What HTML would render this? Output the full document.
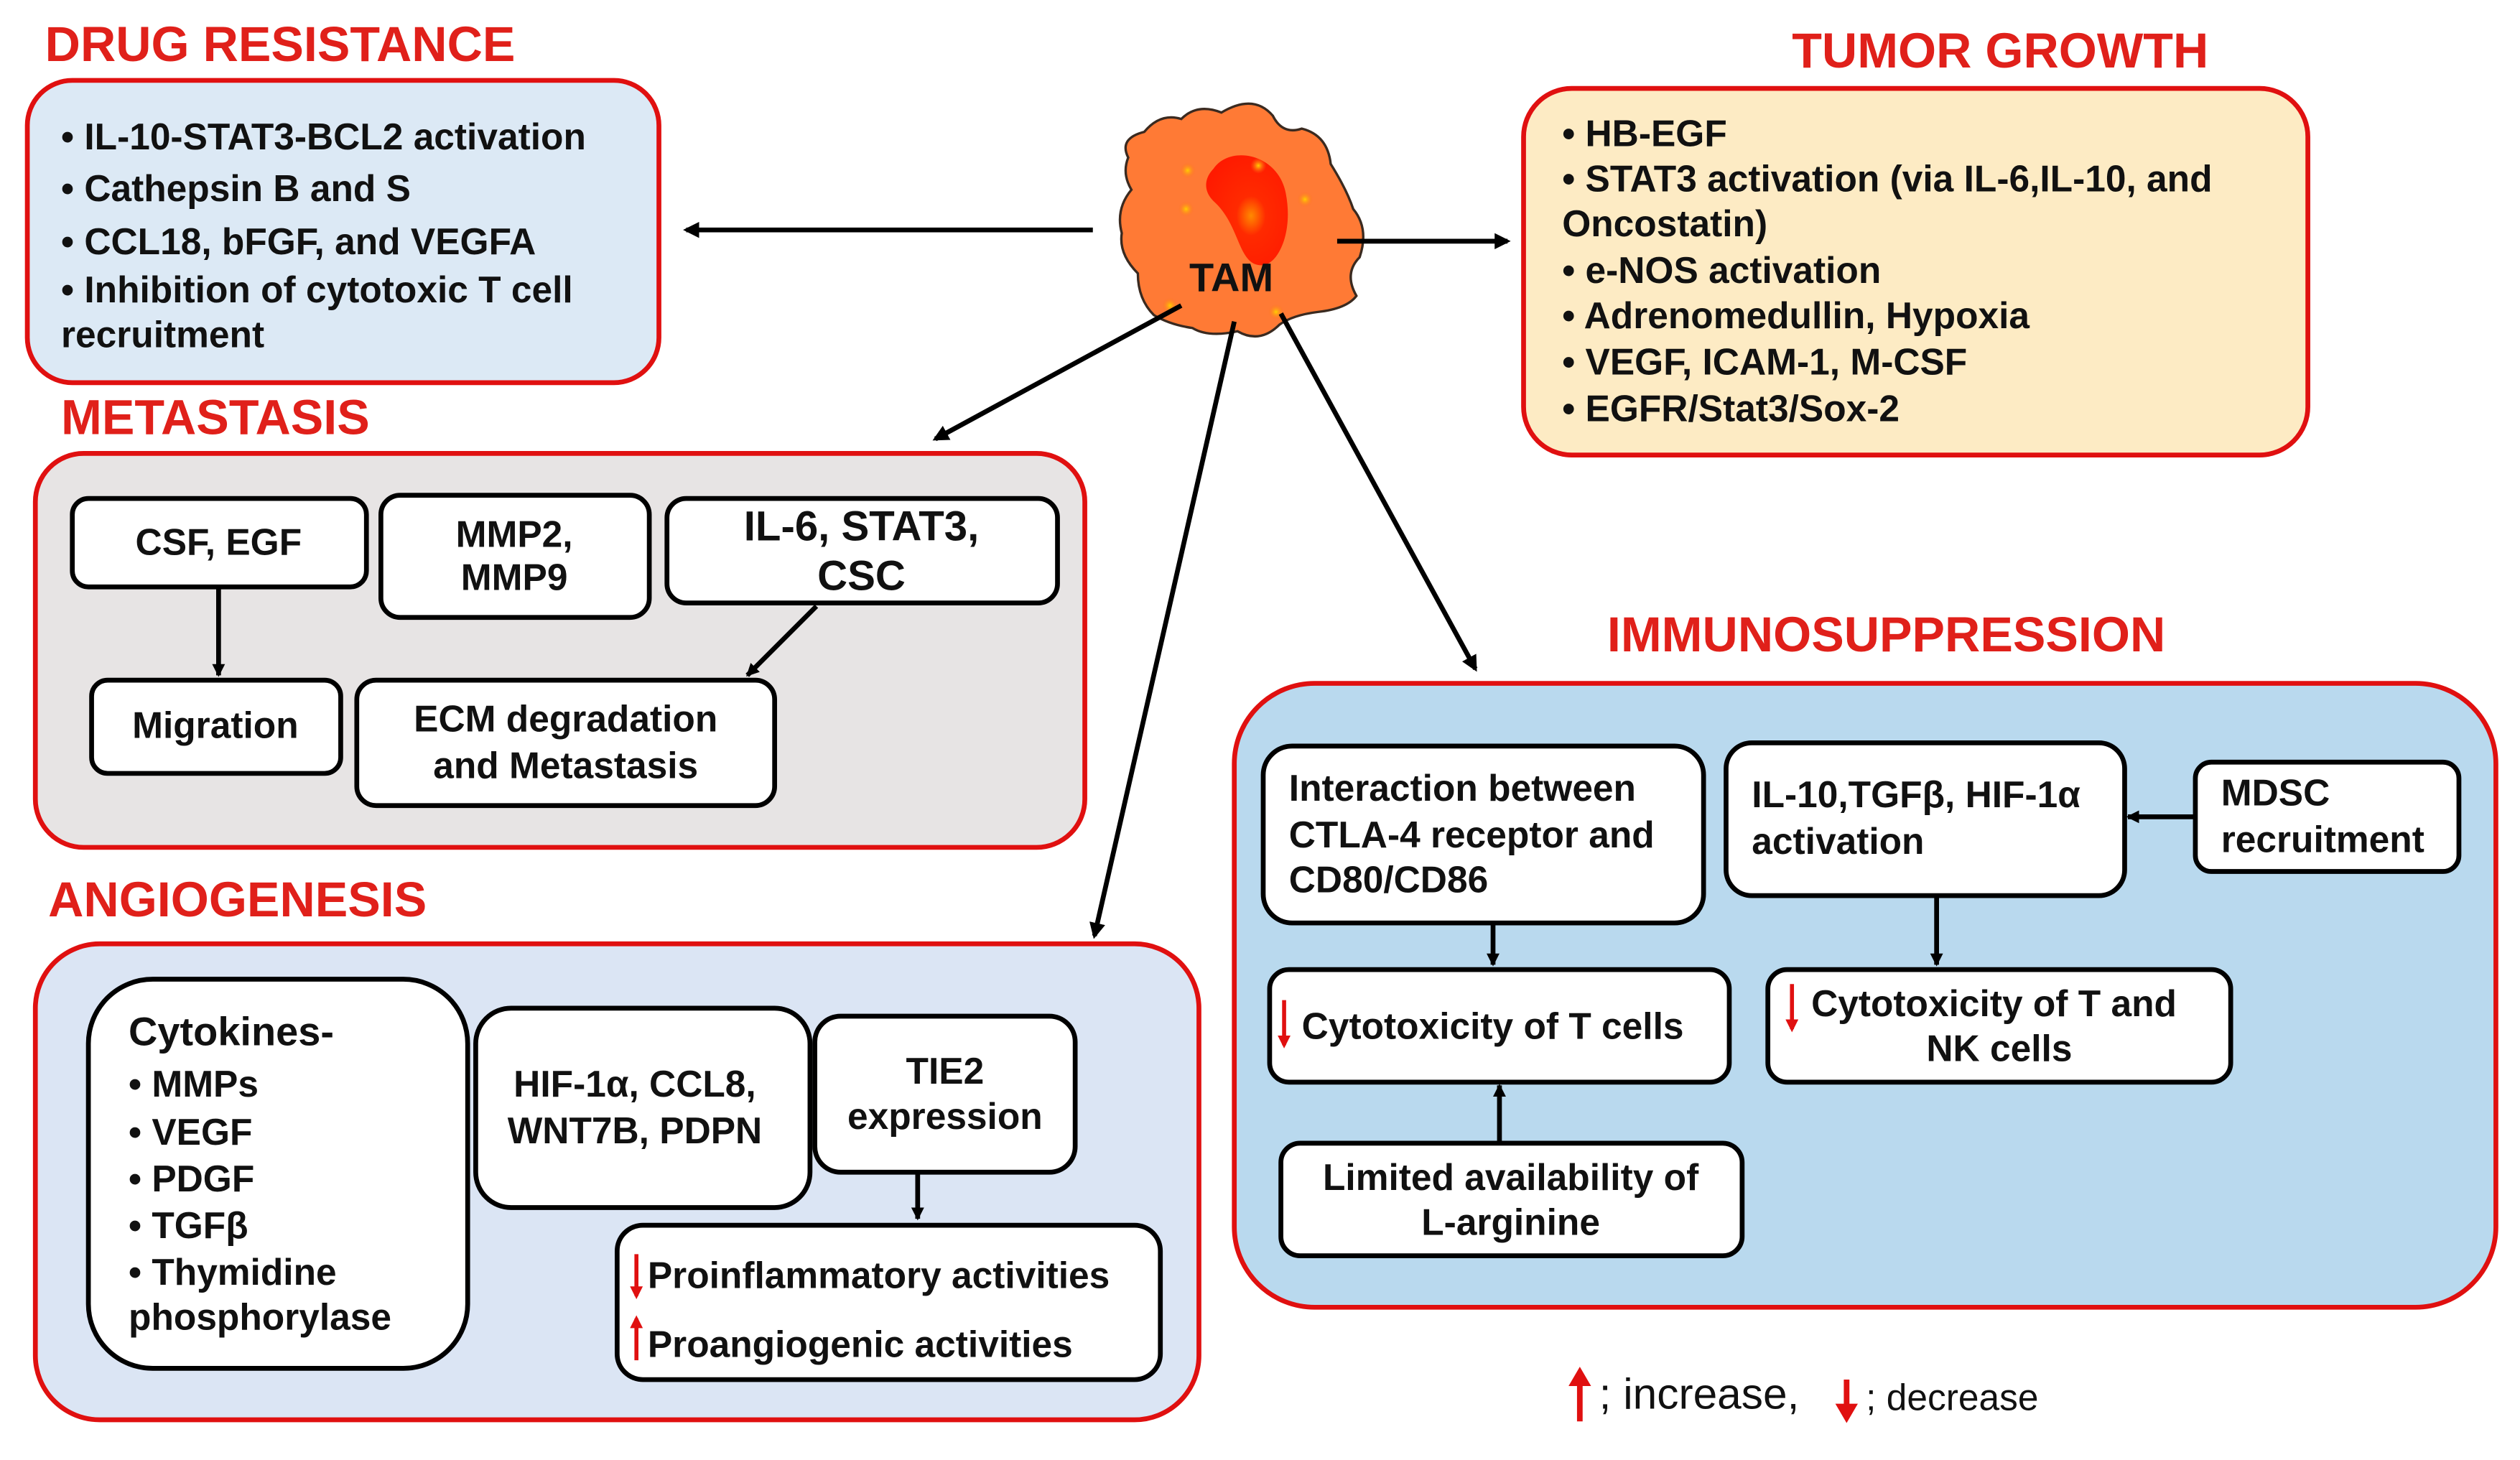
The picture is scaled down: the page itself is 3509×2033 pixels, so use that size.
<!DOCTYPE html>
<html><head><meta charset="utf-8"><style>
html,body{margin:0;padding:0;background:#fff;}
svg{display:block;}
text{font-family:"Liberation Sans",Arial,sans-serif;font-weight:bold;}
.t{font-size:30.5px;fill:#e0201a;}
.b{font-size:23px;fill:#111;}
.bx{fill:#fff;stroke:#000;stroke-width:3;}
.ln{stroke:#000;stroke-width:3;fill:none;}
.ra{stroke:#e01010;stroke-width:2.5;fill:none;}
</style></head><body>
<svg width="3509" height="2033" viewBox="0 0 1568 908" preserveAspectRatio="none" xmlns="http://www.w3.org/2000/svg">
<defs>
<marker id="ah" markerWidth="10" markerHeight="10" refX="8" refY="5" orient="auto" markerUnits="userSpaceOnUse"><path d="M0,0 L10,5 L0,10 Z" fill="#000"/></marker>
<marker id="as" markerWidth="8" markerHeight="8" refX="7" refY="4" orient="auto" markerUnits="userSpaceOnUse"><path d="M0,0 L8,4 L0,8 Z" fill="#000"/></marker>
<marker id="ar" markerWidth="8" markerHeight="8" refX="6" refY="4" orient="auto" markerUnits="userSpaceOnUse"><path d="M0,0 L8,4 L0,8 Z" fill="#e01010"/></marker>
<radialGradient id="nuc" cx="0.55" cy="0.55" r="0.6"><stop offset="0" stop-color="#ff8a00"/><stop offset="0.3" stop-color="#ff2a00"/><stop offset="1" stop-color="#ff1a00"/></radialGradient>
<radialGradient id="dot"><stop offset="0" stop-color="#ffd000"/><stop offset="1" stop-color="#ff6a20" stop-opacity="0"/></radialGradient>
</defs>

<!-- DRUG RESISTANCE -->
<text class="t" x="28" y="38">DRUG RESISTANCE</text>
<rect x="17" y="50" width="393" height="188" rx="28" fill="#dce9f5" stroke="#e01010" stroke-width="3"/>
<text class="b" x="38" y="93">• IL-10-STAT3-BCL2 activation</text>
<text class="b" x="38" y="125">• Cathepsin B and S</text>
<text class="b" x="38" y="158">• CCL18, bFGF, and VEGFA</text>
<text class="b" x="38" y="188">• Inhibition of cytotoxic T cell</text>
<text class="b" x="38" y="216">recruitment</text>
<line class="ln" x1="680" y1="143" x2="427" y2="143" marker-end="url(#ah)"/>

<!-- TAM -->
<g>
<path d="M702,98 Q696,86 712,82 Q722,70 735,74 Q745,64 760,70 Q780,58 792,72 Q798,84 810,80 Q826,84 828,102 Q838,118 842,130 Q852,142 846,160 Q836,170 844,184 Q838,192 820,194 Q804,196 796,202 Q784,214 770,206 Q752,210 742,204 Q728,202 718,196 Q708,186 708,170 Q696,158 698,145 Q694,130 704,118 Q698,108 702,98 Z" fill="#ff7a35" stroke="#3a2a20" stroke-width="1.5"/>
<path d="M755,105 C765,90 795,95 800,120 C805,145 795,165 785,165 C770,165 772,140 755,125 C748,118 750,110 755,105 Z" fill="url(#nuc)"/>
<circle cx="739" cy="106" r="5" fill="url(#dot)"/><circle cx="728" cy="190" r="5" fill="url(#dot)"/>
<circle cx="738" cy="130" r="5" fill="url(#dot)"/><circle cx="794" cy="194" r="5" fill="url(#dot)"/>
<circle cx="812" cy="124" r="5" fill="url(#dot)"/><circle cx="783" cy="103" r="5" fill="url(#dot)"/>
<text x="740" y="181" style="font-size:25px;fill:#111">TAM</text>
</g>
<line class="ln" x1="832" y1="150" x2="938" y2="150" marker-end="url(#ah)"/>

<!-- TUMOR GROWTH -->
<text class="t" x="1115" y="42">TUMOR GROWTH</text>
<rect x="948" y="55" width="488" height="228" rx="30" fill="#fdebc4" stroke="#e01010" stroke-width="3"/>
<text class="b" x="972" y="91">• HB-EGF</text>
<text class="b" x="972" y="119">• STAT3 activation (via IL-6,IL-10, and</text>
<text class="b" x="972" y="147">Oncostatin)</text>
<text class="b" x="972" y="176">• e-NOS activation</text>
<text class="b" x="972" y="204">• Adrenomedullin, Hypoxia</text>
<text class="b" x="972" y="233">• VEGF, ICAM-1, M-CSF</text>
<text class="b" x="972" y="262">• EGFR/Stat3/Sox-2</text>

<!-- METASTASIS -->
<line class="ln" x1="735" y1="190" x2="582" y2="273" marker-end="url(#ah)"/>
<text class="t" x="38" y="270">METASTASIS</text>
<rect x="22" y="282" width="653" height="245" rx="30" fill="#e7e4e4" stroke="#e01010" stroke-width="3"/>
<rect class="bx" x="45" y="310" width="183" height="55" rx="10"/>
<text class="b" x="136" y="345" text-anchor="middle">CSF, EGF</text>
<rect class="bx" x="237" y="308" width="167" height="76" rx="12"/>
<text class="b" x="320" y="340" text-anchor="middle">MMP2,</text>
<text class="b" x="320" y="367" text-anchor="middle">MMP9</text>
<rect class="bx" x="415" y="310" width="243" height="65" rx="12"/>
<text class="b" x="536" y="336" text-anchor="middle" style="font-size:26px">IL-6, STAT3,</text>
<text class="b" x="536" y="367" text-anchor="middle" style="font-size:26px">CSC</text>
<rect class="bx" x="57" y="423" width="155" height="58" rx="10"/>
<text class="b" x="134" y="459" text-anchor="middle">Migration</text>
<rect class="bx" x="222" y="423" width="260" height="78" rx="12"/>
<text class="b" x="352" y="455" text-anchor="middle">ECM degradation</text>
<text class="b" x="352" y="484" text-anchor="middle">and Metastasis</text>
<line class="ln" x1="136" y1="365" x2="136" y2="420" stroke-width="2.5" marker-end="url(#as)"/>
<line class="ln" x1="508" y1="377" x2="465" y2="420" stroke-width="2.5" marker-end="url(#as)"/>

<!-- ANGIOGENESIS -->
<line class="ln" x1="768" y1="200" x2="681" y2="582" marker-end="url(#ah)"/>
<text class="t" x="30" y="570">ANGIOGENESIS</text>
<rect x="22" y="587" width="724" height="296" rx="40" fill="#dbe5f4" stroke="#e01010" stroke-width="3"/>
<rect class="bx" x="55" y="609" width="236" height="242" rx="40"/>
<text class="b" x="80" y="650" style="font-size:25px">Cytokines-</text>
<text class="b" x="80" y="682">• MMPs</text>
<text class="b" x="80" y="712">• VEGF</text>
<text class="b" x="80" y="741">• PDGF</text>
<text class="b" x="80" y="770">• TGFβ</text>
<text class="b" x="80" y="799">• Thymidine</text>
<text class="b" x="80" y="827">phosphorylase</text>
<rect class="bx" x="296" y="627" width="208" height="124" rx="22"/>
<text class="b" x="395" y="682" text-anchor="middle">HIF-1α, CCL8,</text>
<text class="b" x="395" y="711" text-anchor="middle">WNT7B, PDPN</text>
<rect class="bx" x="507" y="632" width="162" height="97" rx="16"/>
<text class="b" x="588" y="674" text-anchor="middle">TIE2</text>
<text class="b" x="588" y="702" text-anchor="middle">expression</text>
<line class="ln" x1="571" y1="729" x2="571" y2="758" stroke-width="2" marker-end="url(#as)"/>
<rect class="bx" x="384" y="762" width="338" height="96" rx="16"/>
<line class="ra" x1="396" y1="780" x2="396" y2="806" marker-end="url(#ar)"/>
<text class="b" x="403" y="801">Proinflammatory activities</text>
<line class="ra" x1="396" y1="846" x2="396" y2="820" marker-end="url(#ar)"/>
<text class="b" x="403" y="844">Proangiogenic activities</text>

<!-- IMMUNOSUPPRESSION -->
<line class="ln" x1="797" y1="195" x2="918" y2="416" marker-end="url(#ah)"/>
<text class="t" x="1000" y="405">IMMUNOSUPPRESSION</text>
<rect x="768" y="425" width="785" height="388" rx="50" fill="#b9d9ee" stroke="#e01010" stroke-width="3"/>
<rect class="bx" x="786" y="464" width="274" height="110" rx="18"/>
<text class="b" x="802" y="498">Interaction between</text>
<text class="b" x="802" y="527">CTLA-4 receptor and</text>
<text class="b" x="802" y="555">CD80/CD86</text>
<rect class="bx" x="1074" y="462" width="248" height="95" rx="16"/>
<text class="b" x="1090" y="502">IL-10,TGFβ, HIF-1α</text>
<text class="b" x="1090" y="531">activation</text>
<rect class="bx" x="1366" y="474" width="164" height="68" rx="10"/>
<text class="b" x="1382" y="501">MDSC</text>
<text class="b" x="1382" y="530">recruitment</text>
<line class="ln" x1="1366" y1="508" x2="1324" y2="508" stroke-width="2.5" marker-end="url(#as)"/>
<line class="ln" x1="929" y1="574" x2="929" y2="600" stroke-width="2.5" marker-end="url(#as)"/>
<rect class="bx" x="790" y="603" width="286" height="70" rx="12"/>
<line class="ra" x1="799" y1="622" x2="799" y2="650" marker-end="url(#ar)"/>
<text class="b" x="810" y="646">Cytotoxicity of T cells</text>
<rect class="bx" x="797" y="711" width="287" height="70" rx="12"/>
<text class="b" x="940" y="740" text-anchor="middle">Limited availability of</text>
<text class="b" x="940" y="768" text-anchor="middle">L-arginine</text>
<line class="ln" x1="933" y1="711" x2="933" y2="675" stroke-width="2.5" marker-end="url(#as)"/>
<line class="ln" x1="1205" y1="557" x2="1205" y2="600" stroke-width="2.5" marker-end="url(#as)"/>
<rect class="bx" x="1100" y="603" width="288" height="70" rx="12"/>
<line class="ra" x1="1115" y1="612" x2="1115" y2="640" marker-end="url(#ar)"/>
<text class="b" x="1127" y="632">Cytotoxicity of T and</text>
<text class="b" x="1244" y="660" text-anchor="middle">NK cells</text>

<!-- legend -->
<line x1="983" y1="884" x2="983" y2="858" stroke="#e01010" stroke-width="3.5"/>
<path d="M976,862 L983,850 L990,862 Z" fill="#e01010"/>
<text x="995" y="876" style="font-size:27px;fill:#111;font-weight:normal">; increase,</text>
<line x1="1149" y1="858" x2="1149" y2="876" stroke="#e01010" stroke-width="3.5"/>
<path d="M1142,873 L1149,885 L1156,873 Z" fill="#e01010"/>
<text x="1161" y="877" style="font-size:23px;fill:#111;font-weight:normal">; decrease</text>
</svg>
</body></html>
